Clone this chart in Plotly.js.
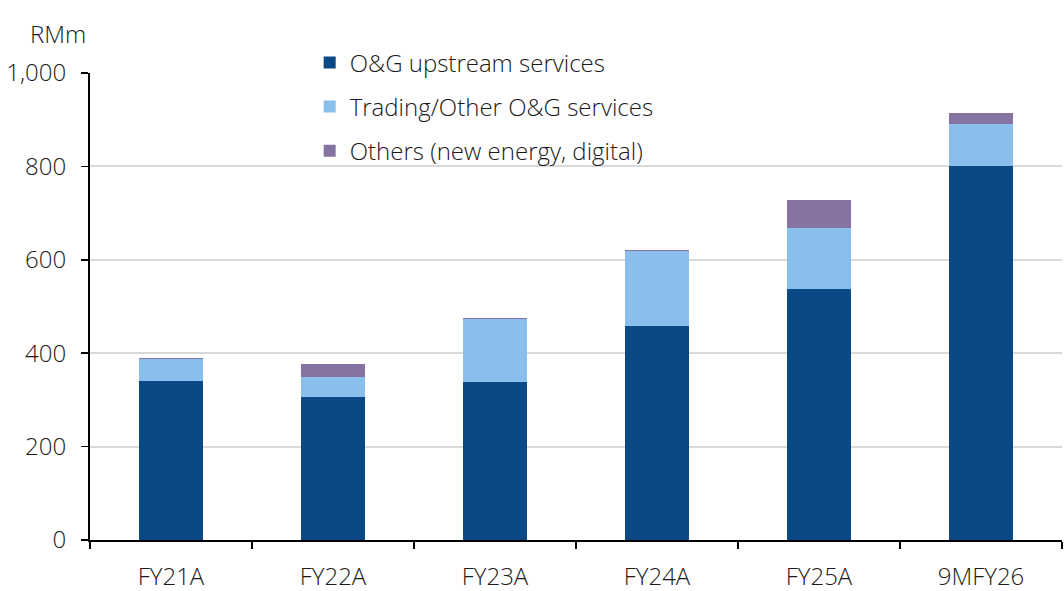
<!DOCTYPE html>
<html>
<head>
<meta charset="utf-8">
<script src="https://cdn.plot.ly/plotly-3.0.1.min.js"></script>
<style>
  html, body { margin: 0; padding: 0; background: #fff; }
  #chart { width: 1064px; height: 591px; }
</style>
</head>
<body>
<div id="chart"></div>
<script>
// revenue by segment, RMm
const periods = ['FY21A', 'FY22A', 'FY23A', 'FY24A', 'FY25A', '9MFY26'];
const upstream = [340, 306, 338, 458, 537, 800];
const trading = [48, 43, 135, 161, 131, 91];
const others = [2, 28, 2, 2, 60, 23];
const yTicks = [0, 200, 400, 600, 800, 1000];
const yTickText = ['0', '200', '400', '600', '800', '1,000'];

const fam = 'Open Sans, Liberation Sans, Arial, sans-serif';
const txt = { family: fam, size: 24, color: '#1a1a1a', weight: 300 };

function barTrace(name, values, color) {
    return {
        type: 'bar',
        name: name,
        x: periods,
        y: values,
        legendgroup: name,
        marker: { color: color, line: { width: 0 } },
        width: 0.4,
        hoverinfo: 'skip'
    };
}

const traces = [
    barTrace('O&G upstream services', upstream, '#0a4886'),
    barTrace('Trading/Other O&G services', trading, '#8abeec'),
    barTrace('Others (new energy, digital)', others, '#8773a1')
];

const layout = {
    width: 1064,
    height: 591,
    barmode: 'stack',
    paper_bgcolor: '#fff',
    plot_bgcolor: '#fff',
    font: txt,
    margin: { l: 90, r: 2, t: 73, b: 51 },
    showlegend: true,
    legend: {
        x: 0.226, y: 1.07,
        xanchor: 'left', yanchor: 'top',
        traceorder: 'grouped',
        tracegroupgap: 10,
        bgcolor: 'rgba(0,0,0,0)',
        font: txt,
        itemwidth: 30
    },
    xaxis: {
        type: 'category',
        showline: true,
        linecolor: '#000',
        linewidth: 2,
        ticks: 'outside',
        tickson: 'boundaries',
        ticklen: 7,
        tickcolor: '#000',
        tickwidth: 1.5,
        showgrid: false,
        ticklabelstandoff: 14,
        tickfont: txt
    },
    yaxis: {
        range: [0, 1000],
        tickvals: yTicks,
        ticktext: yTickText,
        showline: true,
        linecolor: '#000',
        linewidth: 2,
        ticks: 'outside',
        ticklen: 7,
        tickcolor: '#000',
        tickwidth: 1.5,
        showgrid: true,
        gridcolor: '#d9d9d9',
        gridwidth: 2,
        zeroline: false,
        ticklabelstandoff: 10,
        tickfont: txt
    },
    annotations: [{
        text: 'RMm',
        xref: 'paper', yref: 'paper',
        x: -0.002, y: 1.045,
        xanchor: 'right', yanchor: 'bottom',
        showarrow: false,
        font: txt
    }]
};

Plotly.newPlot('chart', traces, layout, { displayModeBar: false, staticPlot: true });
</script>
</body>
</html>
